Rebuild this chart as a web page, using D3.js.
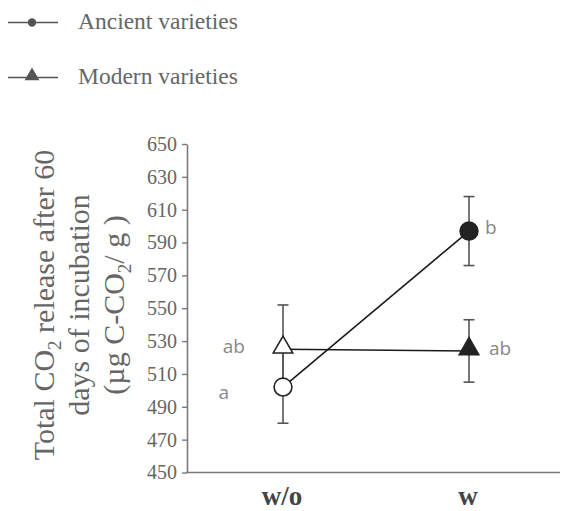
<!DOCTYPE html>
<html>
<head>
<meta charset="utf-8">
<script src="https://cdn.jsdelivr.net/npm/d3@7"></script>
<style>
  body { margin: 0; background: #fff; }
  svg { display: block; }
</style>
</head>
<body>
<div id="chart"></div>
<script>
const width = 561;
const height = 511;

// data
const treatments = ['w/o', 'w'];
const seriesNames = ['Ancient varieties', 'Modern varieties'];
const ancientMeans = [502, 597];
const ancientErr = [22, 21];
const modernMeans = [525, 524];
const modernErr = [27, 19];
const ancientLetters = ['a', 'b'];
const modernLetters = ['ab', 'ab'];
const yTicks = [450, 470, 490, 510, 530, 550, 570, 590, 610, 630, 650];

const margin = { left: 187, right: 1, top: 144, bottom: 38 };

const svg = d3.select('#chart')
  .append('svg')
  .attr('width', width)
  .attr('height', height)

const y = d3.scaleLinear()
  .domain([450, 650])
  .range([height - margin.bottom - 0.5, margin.top]);

const x = d3.scalePoint()
  .domain(treatments)
  .range([283, 469]);

const serif = "'Liberation Serif', 'Times New Roman', serif";
const axisColor = '#7a7a7a';

// y axis
const yAxis = svg.append('g')
  .attr('transform', `translate(${margin.left},0)`)
  .call(d3.axisLeft(y).tickValues(yTicks).tickSize(5).tickPadding(5).tickSizeOuter(0));
yAxis.select('.domain').attr('stroke', axisColor).attr('stroke-width', 1.6);
yAxis.selectAll('.tick line').attr('stroke', axisColor).attr('stroke-width', 1.4);
yAxis.selectAll('.tick text')
  .attr('fill', '#666')
  .style('font-family', serif)
  .style('font-size', '20px');

// x axis line
svg.append('line')
  .attr('x1', margin.left - 0.8)
  .attr('x2', width - margin.right)
  .attr('y1', y(450))
  .attr('y2', y(450))
  .attr('stroke', axisColor)
  .attr('stroke-width', 1.6);

svg.selectAll('.xlabel')
  .data(treatments)
  .join('text')
  .attr('class', 'xlabel')
  .attr('x', d => x(d) - 1)
  .attr('y', 505)
  .attr('text-anchor', 'middle')
  .attr('fill', '#444')
  .style('font-family', serif)
  .style('font-weight', 'bold')
  .style('font-size', '27px')
  .text(d => d);

// y axis title
const title = svg.append('g')
  .attr('transform', 'translate(81,305) rotate(-90)')
  .attr('fill', '#666')
  .style('font-family', serif)
  .style('font-size', '30px')
  .attr('text-anchor', 'middle');

const t1 = title.append('text').attr('y', -27);
t1.append('tspan').text('Total CO');
t1.append('tspan').text('2').attr('font-size', '19px').attr('dy', 7);
t1.append('tspan').text(' release after 60').attr('dy', -7);
title.append('text').attr('y', 8).text('days of incubation');
const t3 = title.append('text').attr('y', 43);
t3.append('tspan').text('(µg C-CO');
t3.append('tspan').text('2').attr('font-size', '19px').attr('dy', 7);
t3.append('tspan').text('/ g )').attr('dy', -7);

// series
const series = [
  { name: seriesNames[0], means: ancientMeans, err: ancientErr, letters: ancientLetters, shape: 'circle' },
  { name: seriesNames[1], means: modernMeans, err: modernErr, letters: modernLetters, shape: 'triangle' }
];

const circleSym = d3.symbol().type(d3.symbolCircle).size(250);
const triSym = d3.symbol().type(d3.symbolTriangle).size(165);

// error bars
series.forEach(s => {
  const g = svg.append('g').attr('stroke', '#555').attr('stroke-width', 1.6);
  treatments.forEach((t, i) => {
    const cx = x(t);
    const top = y(s.means[i] + s.err[i]);
    const bot = y(s.means[i] - s.err[i]);
    g.append('line').attr('x1', cx).attr('x2', cx).attr('y1', top).attr('y2', bot);
    g.append('line').attr('x1', cx - 5.5).attr('x2', cx + 5.5).attr('y1', top).attr('y2', top);
    g.append('line').attr('x1', cx - 5.5).attr('x2', cx + 5.5).attr('y1', bot).attr('y2', bot);
  });
});

// lines
const line = d3.line()
  .x((d, i) => x(treatments[i]))
  .y(d => y(d));

series.forEach(s => {
  svg.append('path')
    .datum(s.means)
    .attr('d', line)
    .attr('fill', 'none')
    .attr('stroke', '#1a1a1a')
    .attr('stroke-width', 1.6);
});

// markers: open at w/o, filled at w
series.forEach(s => {
  svg.selectAll(null)
    .data(s.means)
    .join('path')
    .attr('d', s.shape === 'circle' ? circleSym : triSym)
    .attr('transform', (d, i) => `translate(${x(treatments[i])},${y(d) + (s.shape === 'circle' ? 0 : -2)})`)
    .attr('fill', (d, i) => i === 0 ? '#fff' : '#222')
    .attr('stroke', '#222')
    .attr('stroke-width', 1.6);
});

// significance letters
const letterStyle = sel => sel
  .attr('fill', '#888')
  .style('font-family', "'Open Sans', 'DejaVu Sans', sans-serif")
  .style('font-size', '19px')
  .attr('dominant-baseline', 'middle');

svg.append('text').call(letterStyle).attr('x', 245).attr('y', y(modernMeans[0]) - 1).attr('text-anchor', 'end').text(modernLetters[0]);
svg.append('text').call(letterStyle).attr('x', 229).attr('y', y(ancientMeans[0]) + 7).attr('text-anchor', 'end').text(ancientLetters[0]);
svg.append('text').call(letterStyle).attr('x', x('w') + 16).attr('y', y(ancientMeans[1]) - 2).text(ancientLetters[1]);
svg.append('text').call(letterStyle).attr('x', x('w') + 20).attr('y', y(modernMeans[1]) - 1).text(modernLetters[1]);

// legend
const legend = svg.append('g');
series.forEach((s, i) => {
  const ly = 22.5 + i * 55;
  legend.append('line')
    .attr('x1', 8).attr('x2', 58).attr('y1', ly).attr('y2', ly)
    .attr('stroke', '#555').attr('stroke-width', 1.6);
  legend.append('path')
    .attr('d', s.shape === 'circle' ? d3.symbol().type(d3.symbolCircle).size(55)() : d3.symbol().type(d3.symbolTriangle).size(95)())
    .attr('transform', `translate(32,${ly + (s.shape === 'circle' ? 0 : -1.5)})`)
    .attr('fill', '#555');
  legend.append('text')
    .attr('x', 78).attr('y', ly + 6)
    .attr('fill', '#666')
    .style('font-family', serif)
    .style('font-size', '23.5px')
    .text(s.name);
});
</script>
</body>
</html>
